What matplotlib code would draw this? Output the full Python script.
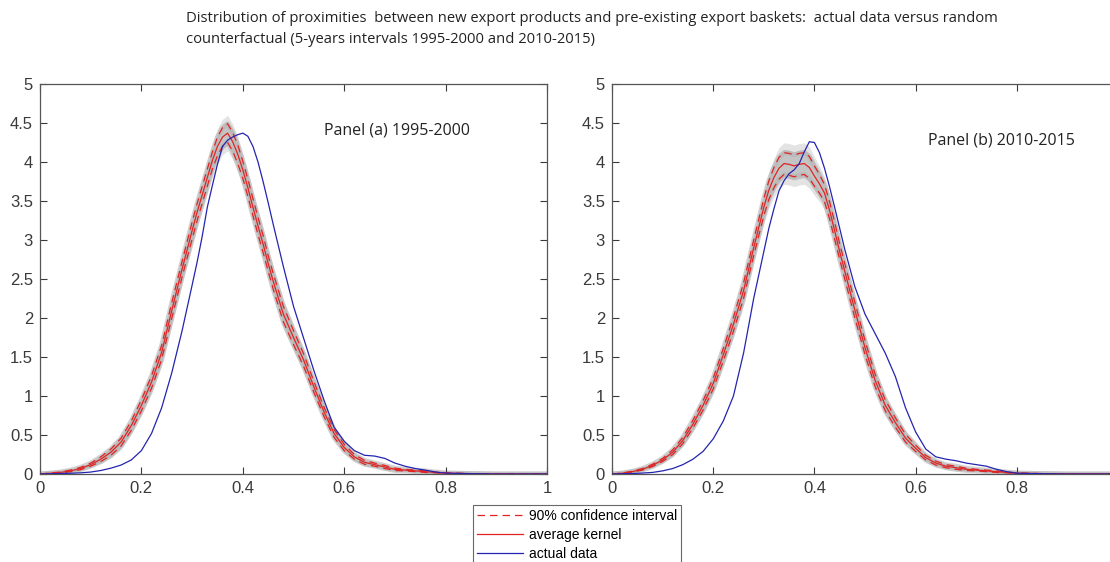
import numpy as np
import matplotlib
matplotlib.use("Agg")
import matplotlib.pyplot as plt

# proximity grid (x) shared by all curves
prox = [0.00, 0.02, 0.04, 0.06, 0.08, 0.10, 0.12, 0.14, 0.16, 0.18, 0.20, 0.22, 0.24, 0.26, 0.28, 0.30,
        0.31, 0.32, 0.33, 0.34, 0.35, 0.36, 0.37, 0.38, 0.39, 0.40, 0.41, 0.42, 0.43, 0.44, 0.45, 0.46,
        0.48, 0.50, 0.52, 0.54, 0.56, 0.58, 0.60, 0.62, 0.64, 0.66, 0.68, 0.70, 0.72, 0.74, 0.76, 0.78, 0.80,
        0.85, 0.90, 0.95, 1.00]

# panel (a) 1995-2000
avg_a = [0, .01, .02, .04, .07, .12, .19, .28, .41, .62, .88, 1.18, 1.56, 2.10, 2.62, 3.12,
         3.36, 3.58, 3.80, 4.02, 4.20, 4.32, 4.37, 4.26, 4.10, 3.90, 3.67, 3.42, 3.18, 2.95, 2.70, 2.47,
         2.05, 1.75, 1.46, 1.12, 0.80, 0.52, 0.34, 0.22, 0.15, 0.12, 0.09, 0.06, 0.05, 0.04, 0.03, 0.02, 0.01,
         0.005, 0, 0, 0]
ci_a = [0, .003, .005, .01, .015, .02, .03, .04, .05, .06, .07, .08, .09, .10, .10, .11,
        .11, .11, .11, .11, .12, .12, .12, .12, .12, .11, .11, .11, .11, .11, .10, .10,
        .10, .09, .08, .07, .06, .05, .04, .03, .025, .02, .02, .015, .01, .01, .01, .005, .005,
        0, 0, 0, 0]
actual_a = [0, .003, .006, .01, .015, .025, .045, .075, .115, .18, .30, .52, .85, 1.30, 1.83, 2.42,
            2.72, 3.05, 3.42, 3.70, 3.97, 4.20, 4.28, 4.32, 4.35, 4.37, 4.33, 4.20, 4.00, 3.75, 3.48, 3.20,
            2.66, 2.15, 1.74, 1.33, 0.95, 0.60, 0.42, 0.30, 0.24, 0.23, 0.20, 0.14, 0.10, 0.07, 0.05, 0.025, 0.012,
            0.004, 0, 0, 0]

# panel (b) 2010-2015
avg_b = [0, .01, .03, .06, .11, .18, .28, .43, .64, .88, 1.16, 1.53, 1.92, 2.35, 2.90, 3.42,
         3.64, 3.80, 3.92, 3.98, 3.97, 3.95, 3.97, 3.98, 3.93, 3.82, 3.72, 3.60, 3.38, 3.12, 2.85, 2.60,
         2.10, 1.62, 1.20, 0.88, 0.66, 0.46, 0.33, 0.21, 0.14, 0.10, 0.08, 0.06, 0.05, 0.04, 0.03, 0.02, 0.01,
         0.005, 0, 0, 0]
ci_b = [0, .003, .005, .01, .015, .02, .03, .04, .05, .06, .07, .08, .09, .10, .10, .11,
        .12, .13, .14, .14, .14, .14, .14, .14, .14, .13, .12, .11, .11, .11, .10, .10,
        .10, .09, .08, .07, .06, .05, .04, .03, .025, .02, .02, .015, .01, .01, .01, .005, .005,
        0, 0, 0, 0]
actual_b = [0, .003, .006, .012, .02, .04, .07, .12, .19, .29, .45, .68, 1.00, 1.55, 2.25, 2.85,
            3.15, 3.40, 3.63, 3.76, 3.85, 3.90, 3.98, 4.13, 4.26, 4.25, 4.12, 3.92, 3.68, 3.42, 3.15, 2.88,
            2.40, 2.05, 1.80, 1.55, 1.25, 0.85, 0.54, 0.32, 0.22, 0.19, 0.17, 0.14, 0.12, 0.10, 0.06, 0.03, 0.01,
            0.004, 0, 0, 0]

panel_labels = ["Panel (a) 1995-2000", "Panel (b) 2010-2015"]
label_pos = [(0.56, 4.41), (0.625, 4.28)]
title = ("Distribution of proximities  between new export products and pre-existing export baskets:  actual data versus random\n"
         "counterfactual (5-years intervals 1995-2000 and 2010-2015)")

RED = "#e02424"
BLUE = "#2424b0"
AXC = "#3a3a3a"
DASH = (0, (6, 4))

plt.rcParams["font.family"] = ["Liberation Sans", "DejaVu Sans"]

fig = plt.figure(figsize=(11.1, 5.62), dpi=100)
ax_a = fig.add_axes([40 / 1110, 88 / 562, 507 / 1110, 390 / 562])
ax_b = fig.add_axes([612 / 1110, 88 / 562, 506 / 1110, 390 / 562])

x = np.array(prox)
for ax, avg, ci, act, lab, pos in [(ax_a, avg_a, ci_a, actual_a, panel_labels[0], label_pos[0]),
                                   (ax_b, avg_b, ci_b, actual_b, panel_labels[1], label_pos[1])]:
    avg = np.array(avg)
    ci = np.array(ci)
    lo, hi = avg - ci, avg + ci
    # grey cloud of simulated kernels
    ax.fill_between(x, avg - 1.9 * ci, avg + 1.9 * ci, color="#e3e3e3", lw=0, zorder=1)
    ax.fill_between(x, avg - 1.3 * ci, avg + 1.3 * ci, color="#c4c4c4", lw=0, zorder=1)
    ax.plot(x, lo, color="#b4b4b4", lw=3.5, alpha=0.6, zorder=1)
    ax.plot(x, hi, color="#b4b4b4", lw=3.5, alpha=0.6, zorder=1)
    ax.plot(x, hi, color=RED, lw=0.9, ls=DASH, zorder=3)
    ax.plot(x, lo, color=RED, lw=0.9, ls=DASH, zorder=3)
    ax.plot(x, avg, color=RED, lw=0.9, zorder=3)
    ax.plot(x, act, color=BLUE, lw=0.9, zorder=4)

    ax.set_xlim(0, 1)
    ax.set_ylim(0, 5)
    ax.set_yticks(np.arange(0, 5.01, 0.5))
    ax.set_yticklabels(["0", "0.5", "1", "1.5", "2", "2.5", "3", "3.5", "4", "4.5", "5"])
    ax.tick_params(direction="in", top=True, right=True, length=5, width=0.8,
                   labelsize=12, colors=AXC, pad=5)
    for sp in ax.spines.values():
        sp.set_color("#555555")
        sp.set_linewidth(0.9)
    ax.text(pos[0], pos[1], lab, fontsize=11.5, color="#222222",
            family=["Open Sans", "DejaVu Sans"], va="center", ha="left")

ax_a.set_xticks([0, 0.2, 0.4, 0.6, 0.8, 1])
ax_a.set_xticklabels(["0", "0.2", "0.4", "0.6", "0.8", "1"])
# right panel runs past the picture edge, its "1" is not shown
ax_b.set_xticks([0, 0.2, 0.4, 0.6, 0.8, 1])
ax_b.set_xticklabels(["0", "0.2", "0.4", "0.6", "0.8", ""])

fig.text(186 / 1110, 1 - 11 / 562, title, fontsize=10.6, color="#222222",
         family=["Open Sans", "DejaVu Sans"],
         ha="left", va="top", linespacing=1.55)

h1, = ax_a.plot([], [], color=RED, lw=0.9, ls=DASH)
h2, = ax_a.plot([], [], color=RED, lw=0.9)
h3, = ax_a.plot([], [], color=BLUE, lw=0.9)
leg = fig.legend([h1, h2, h3], ["90% confidence interval", "average kernel", "actual data"],
                 loc="upper left", bbox_to_anchor=(473 / 1110, 1 - 505 / 562),
                 fontsize=10, frameon=True, fancybox=False, borderpad=0.3,
                 handlelength=3.3, handletextpad=0.4, labelspacing=0.35, borderaxespad=0)
leg.get_frame().set_edgecolor("#444444")
leg.get_frame().set_linewidth(0.8)

fig.savefig("out.png", dpi=100)
